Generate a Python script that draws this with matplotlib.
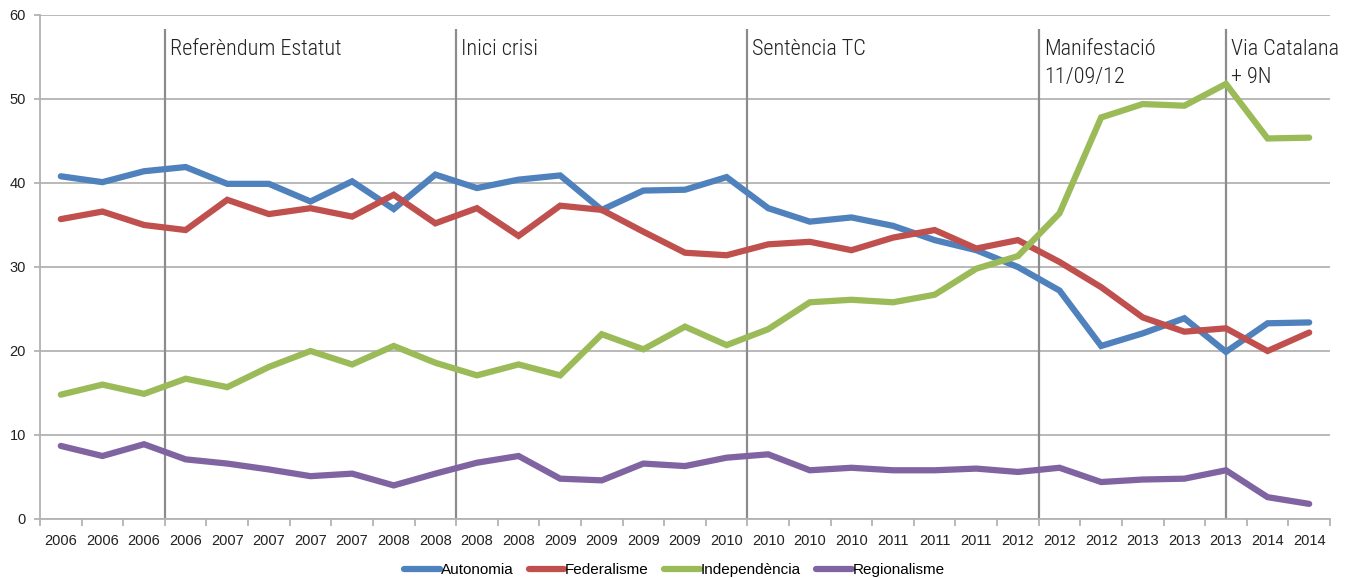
import matplotlib
matplotlib.use("Agg")
import matplotlib.pyplot as plt
from matplotlib.ticker import FixedLocator, NullFormatter

# ── data ──────────────────────────────────────────────────────────────────
years = ["2006"] * 4 + ["2007"] * 4 + ["2008"] * 4 + ["2009"] * 4 + ["2010"] * 4 \
    + ["2011"] * 3 + ["2012"] * 3 + ["2013"] * 3 + ["2014"] * 2

autonomia = [40.8, 40.1, 41.4, 41.9, 39.9, 39.9, 37.8, 40.2, 36.9, 41.0,
             39.4, 40.4, 40.9, 36.8, 39.1, 39.2, 40.7, 37.0, 35.4, 35.9,
             34.9, 33.2, 32.0, 30.0, 27.2, 20.6, 22.1, 23.9, 19.9, 23.3, 23.4]
federalisme = [35.7, 36.6, 35.0, 34.4, 38.0, 36.3, 37.0, 36.0, 38.6, 35.2,
               37.0, 33.7, 37.3, 36.8, 34.2, 31.7, 31.4, 32.7, 33.0, 32.0,
               33.5, 34.4, 32.2, 33.2, 30.6, 27.6, 24.0, 22.3, 22.7, 20.0, 22.2]
independencia = [14.8, 16.0, 14.9, 16.7, 15.7, 18.1, 20.0, 18.4, 20.6, 18.6,
                 17.1, 18.4, 17.1, 22.0, 20.2, 22.9, 20.7, 22.6, 25.8, 26.1,
                 25.8, 26.7, 29.8, 31.3, 36.4, 47.8, 49.4, 49.2, 51.8, 45.3, 45.4]
regionalisme = [8.7, 7.5, 8.9, 7.1, 6.6, 5.9, 5.1, 5.4, 4.0, 5.4,
                6.7, 7.5, 4.8, 4.6, 6.6, 6.3, 7.3, 7.7, 5.8, 6.1,
                5.8, 5.8, 6.0, 5.6, 6.1, 4.4, 4.7, 4.8, 5.8, 2.6, 1.8]

series_names = ["Autonomia", "Federalisme", "Independència", "Regionalisme"]
event_pos = [2.5, 9.5, 16.5, 23.5, 28]
event_labels = ["Referèndum Estatut", "Inici crisi", "Sentència TC",
                "Manifestació\n11/09/12", "Via Catalana\n+ 9N"]

# ── style ────────────────────────────────────────────────────────────────
COLORS = ["#4F81BD", "#C0504D", "#9BBB59", "#8064A2"]
GRID = "#B3B3B3"
EVENT = "#8C8C8C"
TEXT = "#222222"
LABEL_FONT = ["Roboto Condensed", "Liberation Sans Narrow", "Roboto", "DejaVu Sans"]
TICK_FONT = ["Liberation Sans", "DejaVu Sans"]

fig = plt.figure(figsize=(13.49, 5.78), dpi=100)
ax = fig.add_axes([40 / 1349, 59 / 578, 1290 / 1349, 504 / 578])

x = list(range(len(years)))
for vals, name, col in zip([autonomia, federalisme, independencia, regionalisme],
                           series_names, COLORS):
    ax.plot(x, vals, color=col, lw=4.5, label=name, solid_joinstyle="miter",
            solid_capstyle="round", zorder=3)

ax.set_xlim(-0.5, len(years) - 0.5)
ax.set_ylim(0, 60)
ax.set_yticks(range(0, 61, 10))
ax.yaxis.grid(True, color=GRID, lw=1.3)
ax.set_axisbelow(True)

ax.set_xticks(x)
ax.set_xticklabels(years, fontsize=10.5, family=TICK_FONT, color=TEXT)
ax.xaxis.set_minor_locator(FixedLocator([i - 0.5 for i in range(len(years) + 1)]))
ax.xaxis.set_minor_formatter(NullFormatter())
ax.tick_params(axis="x", which="major", length=0, pad=11)
ax.tick_params(axis="x", which="minor", length=5, color=GRID, width=1.3)
ax.tick_params(axis="y", length=4, color=GRID, width=1.3, labelsize=10.5, pad=6)
for t in ax.get_yticklabels():
    t.set_family(TICK_FONT)
    t.set_color(TEXT)

for side in ["top", "right"]:
    ax.spines[side].set_visible(False)
for side in ["left", "bottom"]:
    ax.spines[side].set_color(GRID)
    ax.spines[side].set_linewidth(1.3)

# event markers
ax.vlines(event_pos, 0, 58.3, color=EVENT, lw=1.6, zorder=2)
for pos, lab in zip(event_pos, event_labels):
    ax.text(pos + 0.12, 57.2, lab, ha="left", va="top", fontsize=16,
            family=LABEL_FONT, weight="light", color=TEXT, linespacing=1.45,
            zorder=4)

fig.legend(loc="center", bbox_to_anchor=(0.5, 0.014), ncol=4, frameon=False,
           handlelength=2.35, handletextpad=0.05, columnspacing=1.0,
           prop={"family": TICK_FONT, "size": 11})

fig.savefig("out.png", dpi=100, facecolor="white")
